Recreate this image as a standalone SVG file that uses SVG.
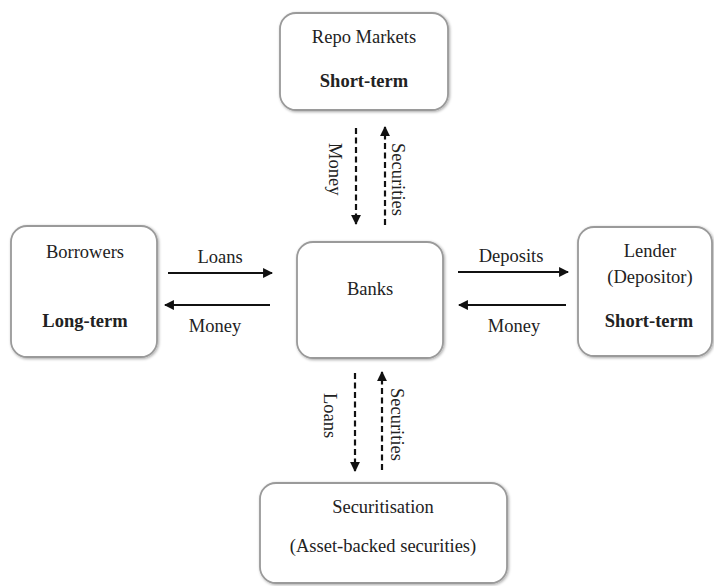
<svg xmlns="http://www.w3.org/2000/svg" width="714" height="586" viewBox="0 0 714 586">
<style>
.nbox{fill:#fff;stroke:#9a9a9a;stroke-width:1.8;filter:url(#sh)}
.dtxt{font-family:'Liberation Serif',serif;font-size:18.5px;fill:#222;text-anchor:middle}
.dbold{font-weight:bold}
.sline{stroke:#111;stroke-width:2.2;fill:none}
.dline{stroke:#111;stroke-width:2.2;fill:none;stroke-dasharray:6,3.5}
</style>
<defs>
<filter id="sh" x="-10%" y="-10%" width="120%" height="120%">
<feGaussianBlur in="SourceAlpha" stdDeviation="1.5"/>
<feOffset dx="0.5" dy="1" result="o"/>
<feComponentTransfer><feFuncA type="linear" slope="0.35"/></feComponentTransfer>
<feMerge><feMergeNode/><feMergeNode in="SourceGraphic"/></feMerge>
</filter>
<marker id="ah" viewBox="0 0 10 10" refX="9" refY="5" markerWidth="4.5" markerHeight="4.5" orient="auto" markerUnits="strokeWidth">
<path d="M0,0 L10,5 L0,10 Z" fill="#111"/>
</marker>
</defs>
<g id="repo">
<rect class="nbox" x="280" y="13" width="168" height="97" rx="16"/>
<text class="dtxt" font-family="Liberation Serif" x="364" y="43">Repo Markets</text>
<text class="dtxt dbold" font-family="Liberation Serif" x="364" y="87">Short-term</text>
</g>
<g id="borrowers">
<rect class="nbox" x="11" y="226" width="146" height="131" rx="16"/>
<text class="dtxt" font-family="Liberation Serif" x="85" y="258">Borrowers</text>
<text class="dtxt dbold" font-family="Liberation Serif" x="85" y="327">Long-term</text>
</g>
<g id="banks">
<rect class="nbox" x="297" y="242" width="146" height="116" rx="16"/>
<text class="dtxt" font-family="Liberation Serif" x="370" y="295">Banks</text>
</g>
<g id="lender">
<rect class="nbox" x="578" y="227" width="134" height="129" rx="16"/>
<text class="dtxt" font-family="Liberation Serif" x="650" y="257">Lender</text>
<text class="dtxt" font-family="Liberation Serif" x="650" y="283">(Depositor)</text>
<text class="dtxt dbold" font-family="Liberation Serif" x="649" y="327">Short-term</text>
</g>
<g id="securitisation">
<rect class="nbox" x="260" y="483" width="247" height="100" rx="16"/>
<text class="dtxt" font-family="Liberation Serif" x="383" y="513">Securitisation</text>
<text class="dtxt" font-family="Liberation Serif" x="383" y="552">(Asset-backed securities)</text>
</g>
<g id="connectors">
<line class="sline" x1="168" y1="273" x2="272" y2="273" marker-end="url(#ah)"/>
<line class="sline" x1="270" y1="305" x2="165" y2="305" marker-end="url(#ah)"/>
<line class="sline" x1="458" y1="272" x2="568" y2="272" marker-end="url(#ah)"/>
<line class="sline" x1="566" y1="305" x2="459" y2="305" marker-end="url(#ah)"/>
<line class="dline" x1="356" y1="128" x2="356" y2="224" marker-end="url(#ah)"/>
<line class="dline" x1="385" y1="225" x2="385" y2="127" marker-end="url(#ah)"/>
<line class="dline" x1="355" y1="373" x2="355" y2="471" marker-end="url(#ah)"/>
<line class="dline" x1="382" y1="470" x2="382" y2="372" marker-end="url(#ah)"/>
<text class="dtxt" font-family="Liberation Serif" x="220" y="263">Loans</text>
<text class="dtxt" font-family="Liberation Serif" x="215" y="332">Money</text>
<text class="dtxt" font-family="Liberation Serif" x="511" y="262">Deposits</text>
<text class="dtxt" font-family="Liberation Serif" x="514" y="332">Money</text>
<text class="dtxt" font-family="Liberation Serif" style="text-anchor:start" transform="translate(329,143) rotate(90)">Money</text>
<text class="dtxt" font-family="Liberation Serif" style="text-anchor:start" transform="translate(392,143) rotate(90)">Securities</text>
<text class="dtxt" font-family="Liberation Serif" style="text-anchor:start" transform="translate(324,393) rotate(90)">Loans</text>
<text class="dtxt" font-family="Liberation Serif" style="text-anchor:start" transform="translate(391,388) rotate(90)">Securities</text>
</g>
</svg>
